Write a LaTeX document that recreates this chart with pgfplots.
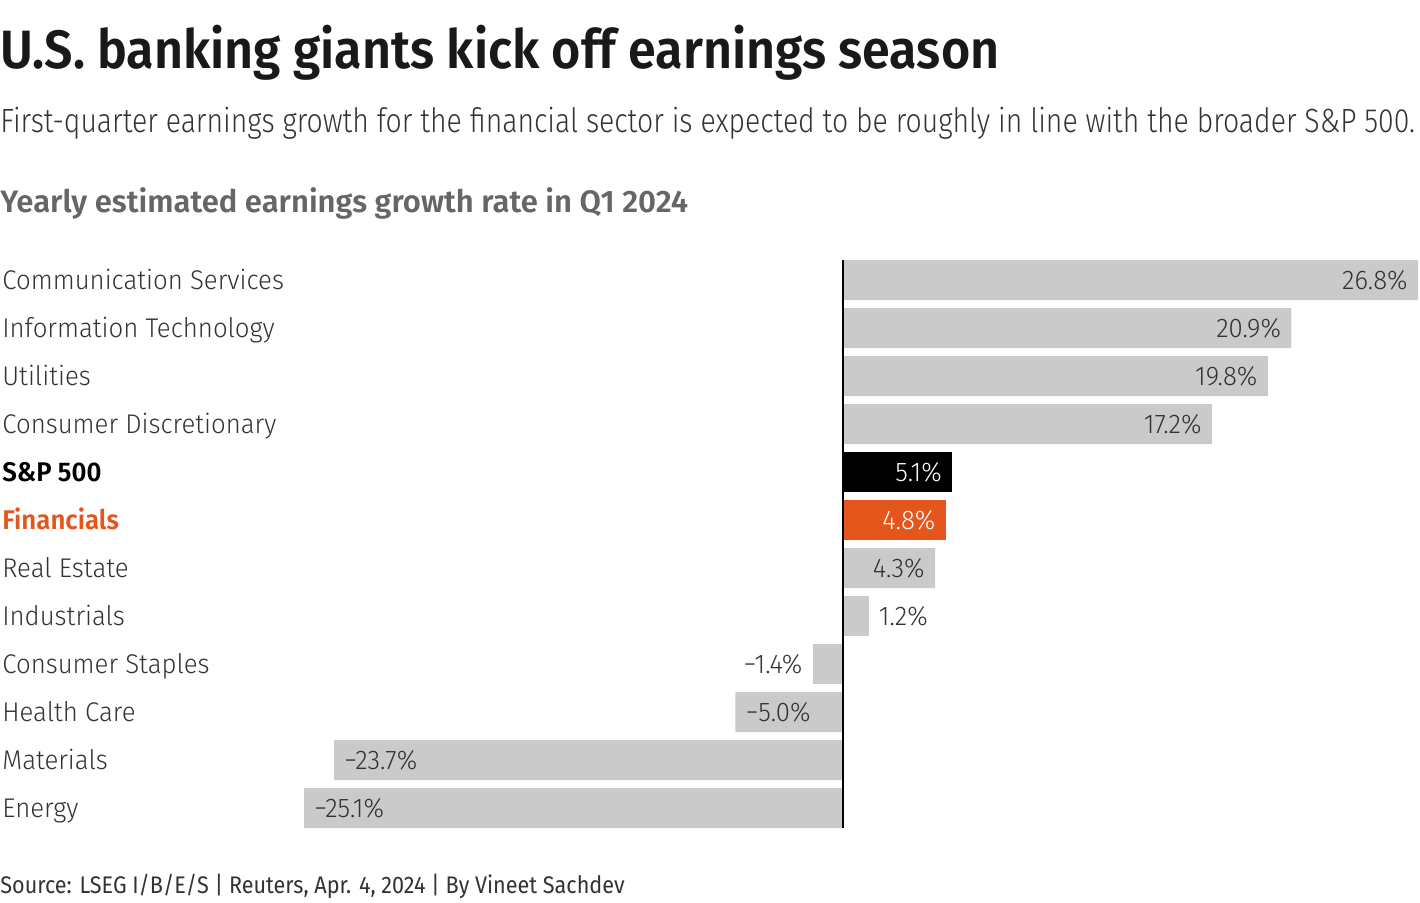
\documentclass[border=0pt]{standalone}
\usepackage{pgfplots}
\pgfplotsset{compat=1.18}
\usepackage{fontspec}
\setmainfont{Fira Sans Light}[BoldFont={Fira Sans SemiBold}]
\newfontfamily\titlefont{Fira Sans SemiBold}[FakeStretch=0.93]
\newfontfamily\subfont{Fira Sans Light}[FakeStretch=0.845]
\newfontfamily\chartsubfont{Fira Sans SemiBold}
\newfontfamily\labfont{Fira Sans Light}[FakeStretch=0.955]
\newfontfamily\labbold{Fira Sans SemiBold}[FakeStretch=0.955]
\newfontfamily\srcfont{Fira Sans}[FakeStretch=0.9]
\definecolor{bargray}{HTML}{CACACA}
\definecolor{orng}{HTML}{E4561B}
\definecolor{txt}{HTML}{333333}
\definecolor{subgray}{HTML}{666666}
\begin{document}
\begin{tikzpicture}
\path[use as bounding box] (0pt,0pt) rectangle (710pt,-451pt);
\node[anchor=base west, inner sep=0pt, font=\titlefont\fontsize{27}{30}\selectfont, text=black!90] at (0pt,-34pt) {U.S. banking giants kick off earnings season};
\node[anchor=base west, inner sep=0pt, font=\subfont\fontsize{16.8}{20}\selectfont, text=txt] at (0pt,-66pt) {First-quarter earnings growth for the financial sector is expected to be roughly in line with the broader S\&P 500.};
\node[anchor=base west, inner sep=0pt, font=\chartsubfont\fontsize{15.5}{18}\selectfont, text=subgray] at (0pt,-106pt) {Yearly estimated earnings growth rate in Q1 2024};
\begin{axis}[
  at={(152pt,-416pt)}, anchor=south west,
  width=557pt, height=288pt, scale only axis,
  xmin=-25.1, xmax=26.8, ymin=-0.5, ymax=11.5, y dir=reverse,
  hide axis, clip=false,
  xbar, bar width=20pt, bar shift=0pt,
  point meta=explicit symbolic,
  nodes near coords,
  every node near coord/.append style={font=\labfont\fontsize{13.5}{16}\selectfont, inner sep=0pt},
]
\addplot[fill=bargray, draw=none, every node near coord/.append style={anchor=east, xshift=-5pt, text=txt}] coordinates {
(26.8,0) [26.8\%]
(20.9,1) [20.9\%]
(19.8,2) [19.8\%]
(17.2,3) [17.2\%]
(4.3,6) [4.3\%]
};
\addplot[fill=black, draw=none, every node near coord/.append style={anchor=east, xshift=-5pt, text=white}] coordinates {(5.1,4) [5.1\%]};
\addplot[fill=orng, draw=none, every node near coord/.append style={anchor=east, xshift=-5pt, text=white}] coordinates {(4.8,5) [4.8\%]};
\addplot[fill=bargray, draw=none, every node near coord/.append style={anchor=west, xshift=5pt, text=txt}] coordinates {(1.2,7) [1.2\%]};
\addplot[fill=bargray, draw=none, every node near coord/.append style={anchor=east, xshift=-5pt, text=txt}] coordinates {(-1.4,8) [−1.4\%]};
\addplot[fill=bargray, draw=none, every node near coord/.append style={anchor=west, xshift=5pt, text=txt}] coordinates {
(-5.0,9) [−5.0\%]
(-23.7,10) [−23.7\%]
(-25.1,11) [−25.1\%]
};
\draw[black, line width=1pt] (axis cs:0,-0.42) -- (axis cs:0,11.42);
\end{axis}
\begin{scope}[every node/.style={anchor=base west, inner sep=0pt, font=\labfont\fontsize{13.5}{16}\selectfont, text=txt}]
\node at (1pt,-144.5pt) {Communication Services};
\node at (1pt,-168.5pt) {Information Technology};
\node at (1pt,-192.5pt) {Utilities};
\node at (1pt,-216.5pt) {Consumer Discretionary};
\node[font=\labbold\fontsize{13.5}{16}\selectfont, text=black] at (1pt,-240.5pt) {S\&P 500};
\node[font=\labbold\fontsize{13.5}{16}\selectfont, text=orng] at (1pt,-264.5pt) {Financials};
\node at (1pt,-288.5pt) {Real Estate};
\node at (1pt,-312.5pt) {Industrials};
\node at (1pt,-336.5pt) {Consumer Staples};
\node at (1pt,-360.5pt) {Health Care};
\node at (1pt,-384.5pt) {Materials};
\node at (1pt,-408.5pt) {Energy};
\end{scope}
\node[anchor=base west, inner sep=0pt, font=\srcfont\fontsize{12}{14}\selectfont, text=txt] at (0pt,-446.5pt) {Source: LSEG I/B/E/S | Reuters, Apr. 4, 2024 | By Vineet Sachdev};
\end{tikzpicture}
\end{document}
